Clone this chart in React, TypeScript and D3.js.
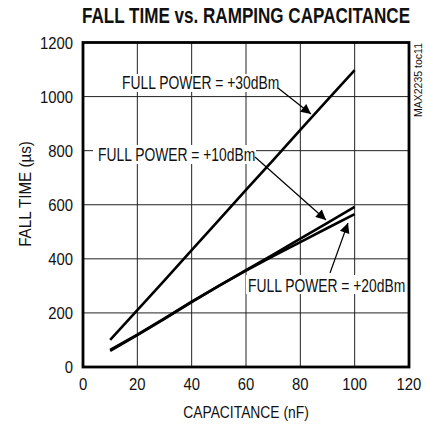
import React from "react";
import * as d3 from "d3";

const capacitance = [10, 20, 30, 40, 50, 60, 70, 80, 90, 100];
const p30 = [100, 210, 320, 432, 543, 655, 765, 877, 988, 1098];
const p10 = [63, 120, 180, 242, 300, 358, 416, 475, 533, 592];
const p20 = [60, 118, 178, 240, 300, 356, 410, 462, 514, 565];
const xTicks = [0, 20, 40, 60, 80, 100, 120];
const yTicks = [0, 200, 400, 600, 800, 1000, 1200];

const FONT = "'Liberation Sans', Arial, sans-serif";

function ST(props: {
  x: number; y: number; sx: number; size: number; anchor?: string; bold?: boolean; rot?: number; children: React.ReactNode;
}) {
  const { x, y, sx, size, anchor = "start", bold = false, rot = 0, children } = props;
  return (
    <text
      transform={`translate(${x},${y}) rotate(${rot}) scale(${sx},1)`}
      textAnchor={anchor}
      fontFamily={FONT}
      fontSize={size}
      fontWeight={bold ? "bold" : "normal"}
      fill="#111"
    >
      {children}
    </text>
  );
}

export default function App() {
  const W = 425, H = 426;
  const L = 83, R = 409, T = 42.5, B = 367;
  const x = d3.scaleLinear().domain([0, 120]).range([L, R]);
  const y = d3.scaleLinear().domain([0, 1200]).range([B, T]);
  const line = d3.line<number>().x((_, i) => x(capacitance[i])).y((d) => y(d));

  const series = [p30, p10, p20];

  return (
    <svg width={W} height={H} style={{ position: "absolute", left: 0, top: 0, background: "#fff" }}>
      <defs>
        <marker id="ah" viewBox="0 0 10 10" refX="10" refY="5" markerWidth="14" markerHeight="10" markerUnits="userSpaceOnUse" orient="auto">
          <path d="M0,0 L10,5 L0,10 z" fill="#000" />
        </marker>
      </defs>
      <rect x={0} y={0} width={W} height={H} fill="#fff" />
      <ST x={246} y={23} sx={0.776} size={22} anchor="middle" bold>
        FALL TIME vs. RAMPING CAPACITANCE
      </ST>
      {/* grid */}
      {xTicks.slice(1, -1).map((t) => (
        <line key={"gx" + t} x1={x(t)} x2={x(t)} y1={T} y2={B} stroke="#222" strokeWidth={1} />
      ))}
      {yTicks.slice(1, -1).map((t) => (
        <line key={"gy" + t} x1={L} x2={R} y1={y(t)} y2={y(t)} stroke="#222" strokeWidth={1} />
      ))}
      {/* data */}
      {series.map((s, i) => (
        <path key={i} d={line(s) || ""} fill="none" stroke="#000" strokeWidth={2.6} strokeLinejoin="round" />
      ))}
      {/* frame */}
      <rect x={L} y={T} width={R - L} height={B - T} fill="none" stroke="#000" strokeWidth={2.8} />
      {/* tick labels */}
      {yTicks.map((t) => (
        <ST key={"yl" + t} x={73} y={y(t) + 6} sx={0.9} size={16.5} anchor="end">
          {t}
        </ST>
      ))}
      {xTicks.map((t) => (
        <ST key={"xl" + t} x={x(t)} y={390} sx={0.9} size={16.5} anchor="middle">
          {t}
        </ST>
      ))}
      <ST x={246} y={418} sx={0.84} size={16.5} anchor="middle">
        CAPACITANCE (nF)
      </ST>
      <ST x={31} y={194} sx={0.92} size={16.5} anchor="middle" rot={-90}>
        FALL TIME (µs)
      </ST>
      <ST x={422} y={80} sx={1} size={10.5} anchor="middle" rot={-90}>
        MAX2235 toc11
      </ST>
      {/* annotations */}
      <rect x={120} y={74} width={159} height={18} fill="#fff" />
      <ST x={122} y={89} sx={0.77} size={18}>
        FULL POWER = +30dBm
      </ST>
      <line x1={278} y1={88} x2={311} y2={114} stroke="#000" strokeWidth={1.2} markerEnd="url(#ah)" />

      <rect x={93} y={145} width={163} height={19} fill="#fff" />
      <ST x={98} y={161} sx={0.77} size={18}>
        FULL POWER = +10dBm
      </ST>
      <line x1={255} y1={157} x2={326} y2={220} stroke="#000" strokeWidth={1.2} markerEnd="url(#ah)" />

      <rect x={246} y={275} width={160} height={19} fill="#fff" />
      <ST x={248} y={292} sx={0.77} size={18}>
        FULL POWER = +20dBm
      </ST>
      <line x1={330} y1={273} x2={348} y2={223} stroke="#000" strokeWidth={1.2} markerEnd="url(#ah)" />
    </svg>
  );
}
